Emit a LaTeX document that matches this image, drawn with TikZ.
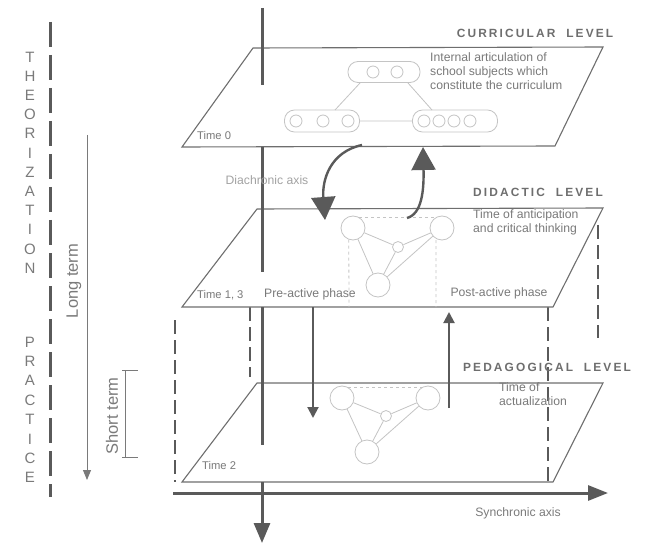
\documentclass[tikz,border=0pt]{standalone}
\usepackage{fontspec}
\setmainfont{Liberation Sans}
\newfontfamily\levelfont[LetterSpace=18]{Liberation Sans}
\usepackage{xcolor}
\usetikzlibrary{arrows.meta}
\definecolor{axisgray}{HTML}{5A5A5A}
\definecolor{planegray}{HTML}{6E6E6E}
\definecolor{textgray}{HTML}{7A7A7A}
\definecolor{faintgray}{HTML}{C4C4C4}

\begin{document}
\begin{tikzpicture}[x=1pt,y=-1pt]
      \tikzstyle{plane} = [draw=planegray, line width=1.1pt, fill=white]
      \tikzstyle{axis} = [draw=axisgray, line width=3pt]
      \tikzstyle{gdash} = [draw=axisgray, line width=2.6pt, dash pattern=on 14pt off 6pt]
      \tikzstyle{ldash} = [draw=axisgray, line width=3pt, dash pattern=on 25pt off 8pt]
      \tikzstyle{oval} = [draw=faintgray, line width=0.8pt, rounded corners=10pt, inner sep=0pt]
      \tikzstyle{sub} = [circle, draw=faintgray, line width=0.8pt, minimum size=12pt, inner sep=0pt]
      \tikzstyle{vtx} = [circle, draw=faintgray, line width=0.8pt, minimum size=24pt, inner sep=0pt]
      \tikzstyle{small} = [circle, draw=faintgray, line width=0.8pt, minimum size=11pt, inner sep=0pt]
      \tikzstyle{gline} = [draw=faintgray, line width=0.8pt]
      \tikzstyle{note} = [text=textgray, font=\fontsize{12.2}{14}\selectfont, inner sep=0pt]
      \tikzstyle{tlabel} = [text=textgray, font=\fontsize{11.2}{13}\selectfont, inner sep=0pt, anchor=west]
      \tikzstyle{term} = [text=textgray, font=\fontsize{16.5}{18}\selectfont, inner sep=0pt, rotate=90]
      \tikzstyle{level} = [text=planegray, font=\fontsize{11.9}{14}\levelfont\bfseries, inner sep=0pt]
      \tikzstyle{letter} = [text=textgray, font=\fontsize{15}{15}\selectfont, inner sep=0pt]
      \useasboundingbox (0,0) rectangle (645,548);
      % left side: theorization / practice
      \draw[ldash] (50,22) -- (50,497);
      \foreach \l [count=\i] in {T,H,E,O,R,I,Z,A,T,I,O,N}
        \node[letter] (th\i) at (30,{57+19.2*(\i-1)}) {\l};
      \foreach \l [count=\i] in {P,R,A,C,T,I,C,E}
        \node[letter] (pr\i) at (30,{342+19.4*(\i-1)}) {\l};
      \coordinate (lt0) at (87,135); \coordinate (lt1) at (87,480);
      \draw[draw=textgray, line width=0.9pt, -{Triangle[length=10pt,width=8pt]}] (lt0) -- (lt1);
      \node[term] (longterm) at (74,281) {Long term};
      \coordinate (st0) at (125,370); \coordinate (st1) at (125,457);
      \draw[draw=textgray, line width=0.9pt] (st0) -- (st1)
        (122,370) -- (138,370) (122,457) -- (138,457);
      \node[term] (shortterm) at (112,416) {Short term};
      % dashed verticals behind the planes
      \draw[gdash] (175,320) -- (175,482);
      \draw[gdash] (250,307) -- (250,377);
      \draw[gdash] (598,225) -- (598,338);
      % bottom plane (pedagogical)
      \draw[plane] (182,482) -- (553,482) -- (603,383) -- (257,383) -- cycle;
      \draw[gdash] (548,307) -- (548,482);
      \node[level] (ped) at (547,367) {PEDAGOGICAL\ \ LEVEL};
      \node[note, align=left, anchor=north west] (actual) at (499,382) {Time of\\actualization};
      \node[tlabel] (t2) at (202,465) {Time 2};
      \node[vtx] (pa) at (342,398) {};
      \node[vtx] (pb) at (428,398) {};
      \node[small] (pc) at (386,416) {};
      \node[vtx] (pd) at (367,452) {};
      \draw[gline, dashed] (pa.60) -- (pb.120);
      \draw[gline] (pa) -- (pc) (pc) -- (pb) (pa) -- (pd) (pc) -- (pd) (pb) -- (pd);
      % middle plane (didactic)
      \draw[plane] (182,307) -- (553,307) -- (603,208) -- (257,209) -- cycle;
      \node[level] (did) at (538,192) {DIDACTIC\ \ LEVEL};
      \node[note, align=left, anchor=north west] (antic) at (473,209) {Time of anticipation\\and critical thinking};
      \node[tlabel] (t13) at (197,295) {Time 1, 3};
      \node[note] (pre) at (310,294) {Pre-active phase};
      \node[note] (post) at (499,293) {Post-active phase};
      \node[vtx] (ma) at (353,228) {};
      \node[vtx] (mb) at (442,228) {};
      \node[small] (mc) at (398,247) {};
      \node[vtx] (md) at (378,285) {};
      \draw[gline, dashed] (ma.60) -- (mb.120);
      \draw[gline, dashed] (ma.250) -- (349,307) (436,240) -- (436,307);
      \draw[gline] (ma) -- (mc) (mc) -- (mb) (ma) -- (md) (mc) -- (md) (mb) -- (md);
      % top plane (curricular)
      \draw[plane] (182,147) -- (555,146) -- (603,47) -- (253,48) -- cycle;
      \node[level] (curr) at (535,33) {CURRICULAR\ \ LEVEL};
      \node[note, align=left, anchor=north west] (inart) at (430,52) {Internal articulation of\\school subjects which\\constitute the curriculum};
      \node[tlabel] (t0) at (197,135) {Time 0};
      \node[oval, minimum width=72pt, minimum height=21pt] (ovtop) at (384,72) {};
      \node[oval, minimum width=75pt, minimum height=22pt] (ovleft) at (322,121) {};
      \node[oval, minimum width=85pt, minimum height=22pt] (ovright) at (455,121) {};
      \node[sub] (s1) at (373,72) {}; \node[sub] (s2) at (397,72) {};
      \node[sub] (s3) at (296,121) {}; \node[sub] (s4) at (323,121) {};
      \node[sub] (s5) at (348,121) {};
      \node[sub] (s6) at (424,121) {}; \node[sub] (s7) at (439,121) {};
      \node[sub] (s8) at (454,121) {}; \node[sub] (s9) at (470,121) {};
      \draw[gline] (360,83) -- (335,110) (408,83) -- (432,110) (ovleft) -- (ovright);
      % diachronic axis, hidden where it runs under a plane
      \coordinate (ax0) at (262,8);
      \coordinate (ax1) at (262,543);
      \draw[axis] (ax0) -- (262,85);
      \draw[axis] (262,147) -- (262,272);
      \draw[axis] (262,307) -- (262,445);
      \draw[axis, -{Triangle[length=20pt,width=16pt]}] (262,482) -- (ax1);
      \node[note, text=textgray!70] (dia) at (267,180) {Diachronic axis};
      % synchronic axis
      \coordinate (sx0) at (173,493); \coordinate (sx1) at (608,493);
      \draw[axis, -{Triangle[length=20pt,width=15pt]}] (sx0) -- (sx1);
      \node[note] (syn) at (518,513) {Synchronic axis};
      % arrows between the levels
      \coordinate (c0) at (362,145); \coordinate (c1) at (325,220);
      \coordinate (c2) at (407,218); \coordinate (c3) at (423,147);
      \draw[draw=axisgray, line width=2.4pt, -{Triangle[length=23pt,width=24pt]}]
        (c0) .. controls (330,152) and (322,180) .. (c1);
      \draw[draw=axisgray, line width=2.4pt, -{Triangle[length=23pt,width=24pt]}]
        (c2) .. controls (422,214) and (424,190) .. (c3);
      \coordinate (d0) at (313,307); \coordinate (d1) at (313,418);
      \coordinate (u0) at (449,408); \coordinate (u1) at (449,312);
      \draw[draw=axisgray, line width=2pt, -{Triangle[length=11pt,width=11pt]}] (d0) -- (d1);
      \draw[draw=axisgray, line width=2pt, -{Triangle[length=11pt,width=11pt]}] (u0) -- (u1);
    \end{tikzpicture}
\end{document}
